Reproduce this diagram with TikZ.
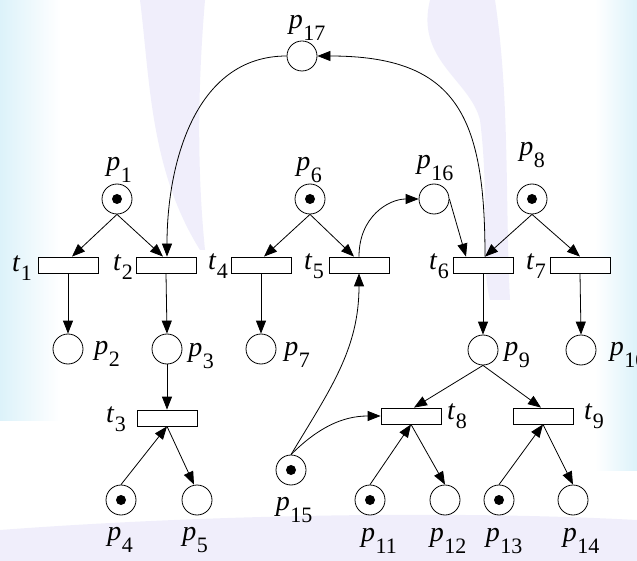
\documentclass[tikz,border=0pt]{standalone}
\usepackage{fontspec}
\setmainfont{Liberation Serif}
\usetikzlibrary{arrows.meta}
\newcommand\plab[1]{\textit{p}\kern0.5pt\raisebox{-12pt}{\fontsize{22}{22}\selectfont #1}}
\newcommand\tlab[1]{\textit{t}\kern0.5pt\raisebox{-9pt}{\fontsize{22}{22}\selectfont #1}}
\definecolor{wmcyan}{RGB}{220,242,250}
\definecolor{wmlav}{RGB}{234,232,250}
\begin{document}
\begin{tikzpicture}[x=1pt,y=1pt,
  place/.style={circle,draw,fill=white,minimum size=30pt,inner sep=0pt,line width=0.8pt},
  trans/.style={draw,fill=white,minimum width=60pt,minimum height=16pt,inner sep=0pt,line width=0.8pt},
  lab/.style={inner sep=0pt,font=\fontsize{28}{30}\selectfont},
  arc/.style={line width=0.8pt,-{Triangle[length=13pt,width=10pt]}},
  wm/.style={draw=none}]
\useasboundingbox (0,0) rectangle (637,-561);
\fill[white] (0,0) rectangle (637,-561);
% faint watermark background
\fill[wm,left color=wmcyan,right color=white] (0,0) rectangle (60,-420);
\fill[wm,right color=wmcyan,left color=white] (595,0) rectangle (637,-470);
\fill[wm,wmlav,opacity=0.7] (140,0) .. controls (150,-80) and (150,-170) .. (200,-250) -- (205,-250) .. controls (195,-150) and (200,-60) .. (205,0) -- cycle;
\fill[wm,wmlav,opacity=0.7] (430,0) .. controls (415,-60) and (470,-80) .. (480,-120) .. controls (490,-200) and (480,-260) .. (490,-300) -- (510,-300) .. controls (505,-200) and (510,-100) .. (495,0) -- cycle;
\fill[wm,wmlav,opacity=0.7] (0,-530) .. controls (200,-515) and (450,-510) .. (637,-520) -- (637,-561) -- (0,-561) -- cycle;
% places
\node[place]  (p17) at (302,-56) {};
\node[place]  (p1)  at (117,-199) {};
\node[place]  (p6)  at (310,-199) {};
\node[place]  (p16) at (434,-199) {};
\node[place]  (p8)  at (532,-199) {};
\node[place]  (p2)  at (68,-349) {};
\node[place]  (p3)  at (167,-349) {};
\node[place]  (p7)  at (261,-349) {};
\node[place]  (p9)  at (483,-350) {};
\node[place]  (p10) at (581,-350) {};
\node[place]  (p4)  at (121,-500) {};
\node[place]  (p5)  at (197,-500) {};
\node[place]  (p15) at (291,-470) {};
\node[place]  (p11) at (370,-500) {};
\node[place]  (p12) at (445,-500) {};
\node[place]  (p13) at (499,-500) {};
\node[place]  (p14) at (573,-500) {};
% tokens
\foreach \q in {p1,p6,p8,p4,p15,p11,p13}
  \fill (\q.center) circle (5pt);
% transitions
\node[trans] (t1) at (68,-265) {};
\node[trans] (t2) at (166,-265) {};
\node[trans] (t4) at (261,-265) {};
\node[trans] (t5) at (359,-265) {};
\node[trans] (t6) at (483,-265) {};
\node[trans] (t7) at (580,-265) {};
\node[trans] (t3) at (167,-418) {};
\node[trans] (t8) at (411,-416) {};
\node[trans] (t9) at (543,-416) {};
% labels
\node[lab] (lp17) at (307,-28) {\plab{17}};
\node[lab] (lp1)  at (119,-170) {\plab{1}};
\node[lab] (lp6)  at (309,-170) {\plab{6}};
\node[lab] (lp16) at (435,-168) {\plab{16}};
\node[lab] (lp8)  at (532,-155) {\plab{8}};
\node[lab] (lp2)  at (107,-354) {\plab{2}};
\node[lab] (lp3)  at (201,-356) {\plab{3}};
\node[lab] (lp7)  at (297,-355) {\plab{7}};
\node[lab] (lp9)  at (517,-355) {\plab{9}};
\node[lab] (lp10) at (628,-355) {\plab{10}};
\node[lab] (lp4)  at (120,-540) {\plab{4}};
\node[lab] (lp5)  at (195,-540) {\plab{5}};
\node[lab] (lp15) at (294,-510) {\plab{15}};
\node[lab] (lp11) at (379,-541) {\plab{11}};
\node[lab] (lp12) at (448,-541) {\plab{12}};
\node[lab] (lp13) at (504,-541) {\plab{13}};
\node[lab] (lp14) at (581,-541) {\plab{14}};
\node[lab] (lt1) at (22,-268) {\tlab{1}};
\node[lab] (lt2) at (123,-267) {\tlab{2}};
\node[lab] (lt4) at (218,-266) {\tlab{4}};
\node[lab] (lt5) at (314,-266) {\tlab{5}};
\node[lab] (lt6) at (439,-266) {\tlab{6}};
\node[lab] (lt7) at (536,-266) {\tlab{7}};
\node[lab] (lt3) at (116,-419) {\tlab{3}};
\node[lab] (lt8) at (457,-416) {\tlab{8}};
\node[lab] (lt9) at (594,-416) {\tlab{9}};
% arcs
\draw[arc] (p1.south) -- ([xshift=4pt]t1.north);
\draw[arc] (p1.south) -- ([xshift=-3pt]t2.north);
\draw[arc] (p6.south) -- ([xshift=3pt]t4.north);
\draw[arc] (p6.south) -- ([xshift=-5pt]t5.north);
\draw[arc] (p8.south) -- ([xshift=2pt]t6.north);
\draw[arc] (p8.south) -- (t7.north);
\draw[arc] (p17.west) .. controls +(-92,0) and +(0,92) .. ([xshift=1pt]t2.north);
\draw[arc] ([xshift=2pt]t6.north) .. controls +(0,140) and +(140,0) .. (p17.east);
\draw[arc] (t5.north) .. controls +(0,40) and +(-30,0) .. (p16.west);
\draw[arc] (p16.east) -- ([xshift=-17pt]t6.north);
\draw[arc] (t1.south) -- (p2.north);
\draw[arc] (t2.south) -- (p3.north);
\draw[arc] (t4.south) -- (p7.north);
\draw[arc] (t6.south) -- (p9.north);
\draw[arc] (t7.south) -- (p10.north);
\draw[arc] (p3.south) -- (t3.north);
\draw[arc] (p4.north) -- (t3.south);
\draw[arc] (t3.south) -- ([xshift=-3pt]p5.north);
\draw[arc] (p15.north) .. controls +(39,65) and +(0,-76) .. (t5.south);
\draw[arc] (p15.north) .. controls +(27,27) and +(-38,0) .. (t8.west);
\draw[arc] (p9.south) -- ([xshift=3pt]t8.north);
\draw[arc] (p9.south) -- ([xshift=-2pt]t9.north);
\draw[arc] (p11.north) -- (t8.south);
\draw[arc] (t8.south) -- (p12.north);
\draw[arc] (p13.north) -- (t9.south);
\draw[arc] (t9.south) -- (p14.north);
\end{tikzpicture}
\end{document}
